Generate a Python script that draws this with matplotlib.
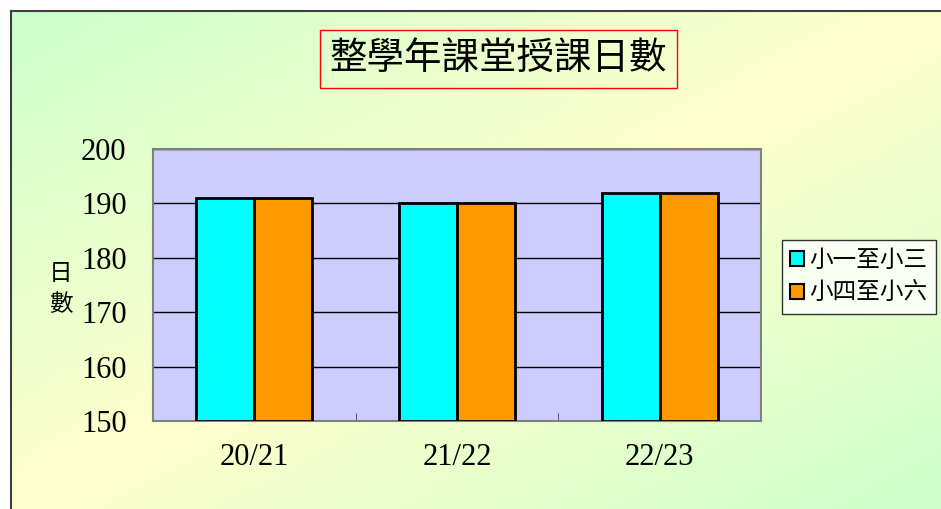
import numpy as np
import matplotlib.pyplot as plt

# 資料
years = ['20/21', '21/22', '22/23']
p1_3 = [191, 190, 192]   # 小一至小三
p4_6 = [191, 190, 192]   # 小四至小六
series_names = ['小一至小三', '小四至小六']
yticks = [150, 160, 170, 180, 190, 200]

cjk = ['Noto Sans CJK TC', 'DejaVu Sans']
num_font = 'Liberation Serif'

fig = plt.figure(figsize=(9.41, 5.09), dpi=100)

# 背景漸層 (左上綠 -> 中間黃 -> 右下綠)
bg = fig.add_axes([11/941, 0, 1 - 11/941, 1 - 11/509])
h, w = 200, 400
yy, xx = np.mgrid[0:h, 0:w]
t = np.abs((xx / (w - 1) + yy / (h - 1)) - 1.0)
green = np.array([204, 255, 204]) / 255
yellow = np.array([255, 255, 204]) / 255
img = yellow[None, None, :] * (1 - t[..., None]) + green[None, None, :] * t[..., None]
bg.imshow(img, aspect='auto', extent=[0, 1, 0, 1])
bg.set_xticks([])
bg.set_yticks([])
for s in ['right', 'bottom']:
    bg.spines[s].set_visible(False)
for s in ['left', 'top']:
    bg.spines[s].set_color('#404040')
    bg.spines[s].set_linewidth(1.5)

# 主圖
ax = fig.add_axes([153/941, 1 - 421/509, 608/941, 272/509])
ax.set_facecolor('#CCCCFF')
x = np.arange(len(years))
bw = 0.286
ax.bar(x - bw/2, [v - 150 for v in p1_3], bw, bottom=150, color='#00FFFF',
       edgecolor='black', linewidth=2, label=series_names[0], zorder=3)
ax.bar(x + bw/2, [v - 150 for v in p4_6], bw, bottom=150, color='#FF9900',
       edgecolor='black', linewidth=2, label=series_names[1], zorder=3)

ax.set_xlim(-0.5, 2.5)
ax.set_ylim(150, 200)
ax.set_yticks(yticks)
ax.set_yticklabels([str(v) for v in yticks], fontsize=22, family=num_font)
ax.set_xticks(x)
ax.set_xticklabels(years, fontsize=22, family=num_font)
ax.set_xticks([0.5, 1.5], minor=True)
ax.tick_params(axis='x', which='major', length=0, pad=16)
ax.tick_params(axis='x', which='minor', length=6, direction='in', color='#404040')
ax.tick_params(axis='y', length=0, pad=19)
ax.grid(axis='y', color='black', linewidth=1, zorder=1)
for s in ax.spines.values():
    s.set_color('#808080')
    s.set_linewidth(1.5)

fig.text(61/941, 1 - 289/509, '日\n數', ha='center', va='center', fontsize=17,
         family=cjk, linespacing=1.45)

# 標題
fig.text(498.5/941, 1 - 59/509, '整學年課堂授課日數', ha='center', va='center',
         fontsize=27, family=cjk, fontweight='light',
         bbox=dict(boxstyle='square,pad=0.25', facecolor='none', edgecolor='red', linewidth=1))

leg = ax.legend(loc='center left', bbox_to_anchor=(782/941, 1 - 277/509),
                bbox_transform=fig.transFigure, prop={'family': cjk, 'size': 17},
                frameon=True, fancybox=False, edgecolor='black', facecolor='white',
                handlelength=0.6, handleheight=0.6, handletextpad=0.2,
                borderpad=0.35, labelspacing=0.45, borderaxespad=0)
leg.get_frame().set_linewidth(1)
for hnd in leg.legend_handles:
    hnd.set_linewidth(1.5)

fig.savefig('out.png', dpi=100)
